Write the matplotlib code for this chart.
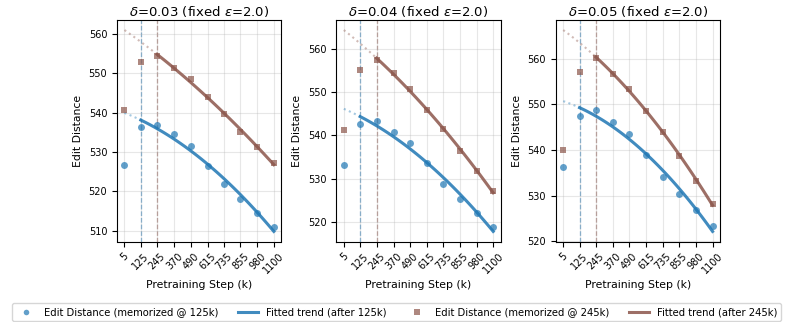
import numpy as np
import matplotlib
matplotlib.use("Agg")
from matplotlib import pyplot as plt
from matplotlib.lines import Line2D

steps = np.array([5, 125, 245, 370, 490, 615, 735, 855, 980, 1100])
deltas = [0.03, 0.04, 0.05]

# edit distance, memorized @ 125k (blue) / @ 245k (brown)
ed_125_d003 = [526.8, 536.5, 537.0, 534.6, 531.6, 526.6, 521.8, 518.0, 514.6, 510.9]
ed_245_d003 = [540.7, 552.9, 554.4, 551.5, 548.5, 544.0, 539.6, 535.2, 531.2, 527.2]
ed_125_d004 = [533.2, 542.7, 543.3, 540.9, 538.2, 533.6, 528.7, 525.3, 522.2, 519.0]
ed_245_d004 = [541.2, 555.1, 557.4, 554.4, 550.8, 545.9, 541.4, 536.5, 531.8, 527.1]
ed_125_d005 = [536.4, 547.5, 548.8, 546.2, 543.5, 538.9, 534.1, 530.4, 526.9, 523.3]
ed_245_d005 = [540.0, 557.0, 560.2, 556.7, 553.3, 548.6, 543.9, 538.7, 533.3, 528.2]

ed_125 = [ed_125_d003, ed_125_d004, ed_125_d005]
ed_245 = [ed_245_d003, ed_245_d004, ed_245_d005]

blue = 'tab:blue'
brown = 'tab:brown'

fig, axes = plt.subplots(1, 3, figsize=(7.93, 3.22), dpi=100)
plt.subplots_adjust(left=0.1475, right=0.908, top=0.938, bottom=0.25, wspace=0.335)


def draw_series(ax, y, start, color, marker):
    y = np.array(y)
    ax.scatter(steps, y, color=color, marker=marker, s=25, alpha=0.7, linewidths=0, zorder=3)
    m = steps >= start
    coef = np.polyfit(steps[m], y[m], 2)
    xs = np.linspace(start, steps[-1], 100)
    ax.plot(xs, np.polyval(coef, xs), color=color, lw=2.2, alpha=0.85, zorder=2)
    xe = np.linspace(steps[0], start, 30)
    ax.plot(xe, np.polyval(coef, xe), color=color, lw=1.5, ls=':', alpha=0.4, zorder=2)
    ax.axvline(start, color=color, ls='--', lw=0.9, alpha=0.6, zorder=1)


for i, ax in enumerate(axes):
    draw_series(ax, ed_125[i], 125, blue, 'o')
    draw_series(ax, ed_245[i], 245, brown, 's')
    ax.set_title(r'$\delta$=%.2f (fixed $\varepsilon$=2.0)' % deltas[i], fontsize=9.5, pad=3)
    ax.set_xlabel('Pretraining Step (k)', fontsize=7.8, labelpad=3)
    ax.set_ylabel('Edit Distance', fontsize=7.8)
    ax.set_xticks(steps)
    ax.set_xticklabels([str(s) for s in steps], rotation=45)
    ax.tick_params(labelsize=7)
    ax.grid(True, alpha=0.3)

handles = [
    Line2D([], [], marker='o', ls='none', color=blue, alpha=0.7, markersize=4, markeredgewidth=0),
    Line2D([], [], color=blue, lw=2.2, alpha=0.85),
    Line2D([], [], marker='s', ls='none', color=brown, alpha=0.7, markersize=4, markeredgewidth=0),
    Line2D([], [], color=brown, lw=2.2, alpha=0.85),
]
labels = ['Edit Distance (memorized @ 125k)', 'Fitted trend (after 125k)',
          'Edit Distance (memorized @ 245k)', 'Fitted trend (after 245k)']
fig.legend(handles, labels, loc='upper center', bbox_to_anchor=(0.5, 0.073), ncol=4, fontsize=7.2)

plt.savefig('out.png', dpi=100)
